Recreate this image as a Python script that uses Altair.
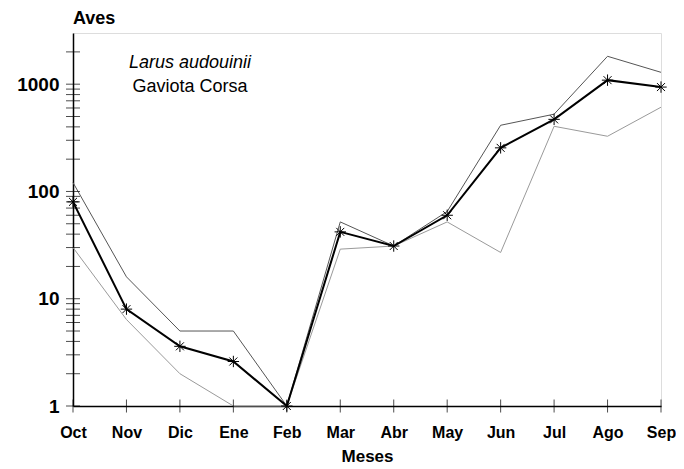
import altair as alt
import pandas as pd

months = ["Oct", "Nov", "Dic", "Ene", "Feb", "Mar", "Abr", "May", "Jun", "Jul", "Ago", "Sep"]
media = [80, 8, 3.6, 2.6, 1, 42, 31, 60, 255, 470, 1090, 940]
maximo = [121, 16, 5, 5, 1, 52, 31, 65, 414, 525, 1820, 1290]
minimo = [30, 6.4, 2.0, 1, 1, 29, 31, 52, 27, 405, 327, 610]

y_major = [1, 10, 100, 1000]
y_ticks = [1, 2, 3, 4, 5, 6, 7, 8, 9,
           10, 20, 30, 40, 50, 60, 70, 80, 90,
           100, 200, 300, 400, 500, 600, 700, 800, 900,
           1000, 2000]

FONT = "Liberation Sans"

rows = []
for i, m in enumerate(months):
    rows.append({"mes": m, "serie": "max", "aves": maximo[i]})
    rows.append({"mes": m, "serie": "min", "aves": minimo[i]})
df_range = pd.DataFrame(rows)
df_mean = pd.DataFrame({"mes": months, "aves": media})
df_yt = pd.DataFrame({"v": y_ticks})
df_xt = pd.DataFrame({"mes": months})

xscale = alt.Scale(type="point", domain=months, padding=0)
yscale = alt.Scale(type="log", domain=[1, 3000], nice=False)

x_enc = alt.X("mes:N", scale=xscale, sort=months,
              axis=alt.Axis(title="Meses", labelAngle=0, ticks=False, grid=False,
                            labelFont=FONT, labelFontSize=16, labelFontWeight="bold",
                            labelColor="black", labelPadding=18,
                            titleFont=FONT, titleFontSize=17, titleFontWeight="bold",
                            titleColor="black", titlePadding=8,
                            domainColor="black", domainWidth=1.5))
y_enc = alt.Y("aves:Q", scale=yscale,
              axis=alt.Axis(title=None, values=y_major, format="d", ticks=False, grid=False,
                            labelFont=FONT, labelFontSize=19, labelFontWeight="bold",
                            labelColor="black", labelPadding=14, minExtent=65,
                            domainColor="black", domainWidth=1.5))

range_lines = alt.Chart(df_range).mark_line().encode(
    x=x_enc, y=y_enc,
    color=alt.Color("serie:N", scale=alt.Scale(domain=["max", "min"], range=["#555555", "#9a9a9a"]), legend=None),
    strokeWidth=alt.value(1),
)

mean_line = alt.Chart(df_mean).mark_line(color="black", strokeWidth=2).encode(x=x_enc, y=y_enc)

asterisk = "M0,-1L0,1M-1,0L1,0M-0.7,-0.7L0.7,0.7M-0.7,0.7L0.7,-0.7"
mean_pts = alt.Chart(df_mean).mark_point(shape=asterisk, filled=False, size=130,
                                          color="black", strokeWidth=1, opacity=1).encode(x=x_enc, y=y_enc)

yticks = alt.Chart(df_yt).mark_tick(orient="horizontal", size=14, thickness=1, color="black").encode(
    y=alt.Y("v:Q", scale=yscale), x=alt.datum("Oct", scale=xscale))

xticks = alt.Chart(df_xt).mark_tick(orient="vertical", size=13, thickness=1, color="black").encode(
    x=alt.X("mes:N", scale=xscale, sort=months), y=alt.datum(1, scale=yscale))

label1 = alt.Chart(pd.DataFrame({"t": ["Larus audouinii"]})).mark_text(
    font=FONT, fontSize=18, fontStyle="italic", color="black", align="center", baseline="middle"
).encode(text="t:N", x=alt.value(117), y=alt.value(30))
label2 = alt.Chart(pd.DataFrame({"t": ["Gaviota Corsa"]})).mark_text(
    font=FONT, fontSize=18, color="black", align="center", baseline="middle"
).encode(text="t:N", x=alt.value(117), y=alt.value(54))

chart = alt.layer(range_lines, mean_line, mean_pts, yticks, xticks, label1, label2).properties(
    width=588, height=373,
    title=alt.Title("Aves", anchor="start", frame="group", font=FONT, fontSize=18,
                    fontWeight="bold", color="black", offset=5),
    padding={"left": 0, "top": 2, "right": 0, "bottom": 0},
).configure_view(stroke="#555555", strokeWidth=1).configure(background="white")

chart.save("out.html", embed_options={"renderer": "svg", "actions": False})
